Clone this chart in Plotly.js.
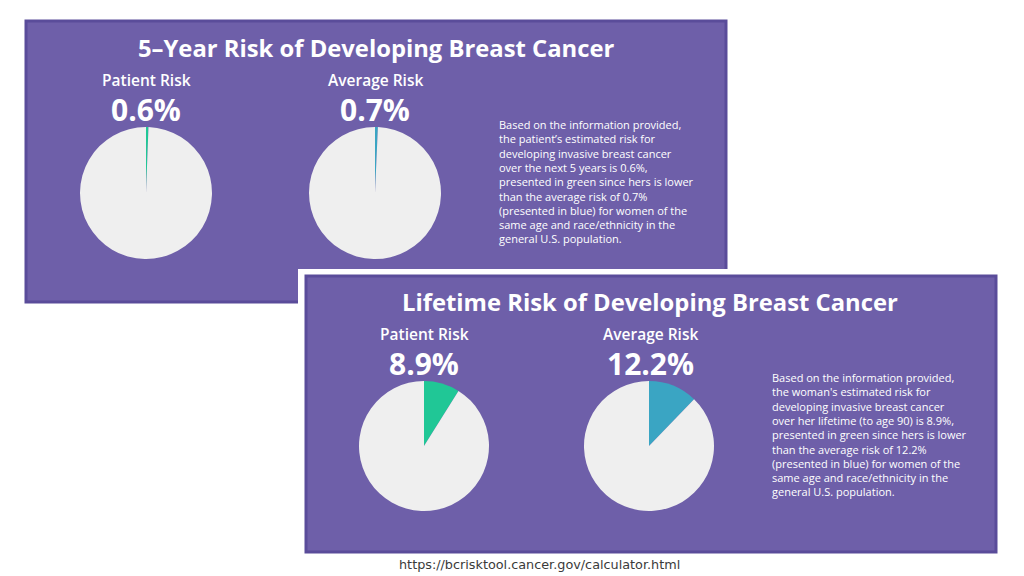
<!DOCTYPE html>
<html>
<head>
<meta charset="utf-8">
<script src="https://cdn.plot.ly/plotly-3.0.1.min.js"></script>
<style>html,body{margin:0;padding:0;background:#fff;}#chart{width:1024px;height:576px;}</style>
</head>
<body>
<div id="chart"></div>
<script>
// ---- data ----
const categories = ['Patient Risk', 'Average Risk'];
const fiveYearRisk = [0.6, 0.7];
const lifetimeRisk = [8.9, 12.2];
const panelTitles = ['5\u2013Year Risk of Developing Breast Cancer', 'Lifetime Risk of Developing Breast Cancer'];
const fiveYearText = 'Based on the information provided,<br>the patient\u2019s estimated risk for<br>developing invasive breast cancer<br>over the next 5 years is 0.6%,<br>presented in green since hers is lower<br>than the average risk of 0.7%<br>(presented in blue) for women of the<br>same age and race/ethnicity in the<br>general U.S. population.';
const lifetimeText = 'Based on the information provided,<br>the woman\'s estimated risk for<br>developing invasive breast cancer<br>over her lifetime (to age 90) is 8.9%,<br>presented in green since hers is lower<br>than the average risk of 12.2%<br>(presented in blue) for women of the<br>same age and race/ethnicity in the<br>general U.S. population.';
const sourceText = 'https://bcrisktool.cancer.gov/calculator.html';

// ---- styles ----
const W = 1024, H = 576;
const PURPLE = '#6e5fa9', PURPLE_EDGE = '#5a4c9a', GREY = '#efefef';
const sliceColors = ['#20c796', '#3aa5c3'];
const px = x => x / W, py = y => 1 - y / H;

function pieTrace(value, color, cx, cy, r) {
  return {
    type: 'pie', values: [value, 100 - value], labels: ['risk', 'rest'],
    marker: {colors: [color, GREY], line: {width: 0}},
    sort: false, direction: 'clockwise', rotation: 0,
    textinfo: 'none', hoverinfo: 'skip', showlegend: false,
    domain: {x: [px(cx - r), px(cx + r)], y: [py(cy + r), py(cy - r)]}
  };
}

const data = [
  pieTrace(fiveYearRisk[0], sliceColors[0], 146, 193, 66),
  pieTrace(fiveYearRisk[1], sliceColors[1], 375, 193, 66),
  pieTrace(lifetimeRisk[0], sliceColors[0], 424, 446, 65),
  pieTrace(lifetimeRisk[1], sliceColors[1], 649, 446, 65)
];

const TITLE_FONT = {family: 'Open Sans', size: 23.8, color: '#ffffff', weight: 700};
const LABEL_FONT = {family: 'Open Sans', size: 15.5, color: '#ffffff', weight: 600};
const NUM_FONT = {family: 'Open Sans', size: 30, color: '#ffffff', weight: 700};
const BODY_FONT = {family: 'Open Sans', size: 11, color: '#ffffff'};

function ann(text, x, y, font, xanchor, align) {
  return {text: text, x: px(x), y: py(y), xref: 'paper', yref: 'paper',
    xanchor: xanchor || 'center', yanchor: 'middle', align: align || 'center',
    showarrow: false, borderpad: 0, font: font};
}

const annotations = [
  ann(panelTitles[0], 376, 48, TITLE_FONT),
  ann(categories[0], 146, 80, LABEL_FONT),
  ann(categories[1], 375, 80, LABEL_FONT),
  ann(fiveYearRisk[0].toFixed(1) + '%', 146, 109.5, NUM_FONT),
  ann(fiveYearRisk[1].toFixed(1) + '%', 375, 109.5, NUM_FONT),
  ann(fiveYearText, 498, 181, BODY_FONT, 'left', 'left'),
  ann(panelTitles[1], 650, 302, TITLE_FONT),
  ann(categories[0], 424, 334, LABEL_FONT),
  ann(categories[1], 650, 334, LABEL_FONT),
  ann(lifetimeRisk[0].toFixed(1) + '%', 424, 363.5, NUM_FONT),
  ann(lifetimeRisk[1].toFixed(1) + '%', 650, 363.5, NUM_FONT),
  ann(lifetimeText, 771, 434, BODY_FONT, 'left', 'left'),
  ann(sourceText, 539, 564, {family: 'DejaVu Sans', size: 12.8, color: '#3a3a3a'})
];

function rect(x0, y0, x1, y1, fill, line, lw) {
  return {type: 'rect', xref: 'paper', yref: 'paper', layer: 'below',
    x0: px(x0), x1: px(x1), y0: py(y1), y1: py(y0),
    fillcolor: fill, line: {color: line, width: lw}};
}

const shapes = [
  rect(26, 21, 726, 302, PURPLE, PURPLE_EDGE, 3),
  rect(298, 269, 1003, 559, '#ffffff', '#ffffff', 0),
  rect(306, 276, 996, 552, PURPLE, PURPLE_EDGE, 3)
];

const layout = {
  width: W, height: H, margin: {l: 0, r: 0, t: 0, b: 0},
  paper_bgcolor: '#ffffff', plot_bgcolor: '#ffffff',
  showlegend: false, annotations: annotations, shapes: shapes
};

Plotly.newPlot('chart', data, layout, {displayModeBar: false, staticPlot: true});
</script>
</body>
</html>
